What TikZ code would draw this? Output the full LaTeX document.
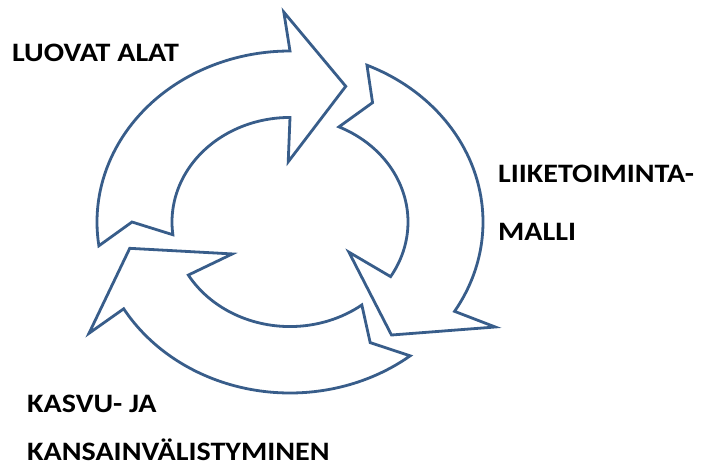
\documentclass[tikz,border=0pt]{standalone}
\usepackage{fontspec}
\setmainfont{Carlito}
\newfontfamily\labelfont{Carlito}[FakeStretch=1.13]
\usetikzlibrary{positioning}
\definecolor{arrowblue}{RGB}{56,93,138}

\begin{document}
\begin{tikzpicture}[x=1pt, y=1pt,
			cyclearrow/.style={draw=arrowblue, fill=white, line width=2.8pt, line join=miter},
			labeltext/.style={font=\labelfont\bfseries\fontsize{26.6}{30}\selectfont, anchor=base west, inner sep=0pt}
			]
			\useasboundingbox (0,0) rectangle (706,-466);
			
			% Cycle arrows
			\begin{scope}[shift={(290,-222)}, yscale=0.886]
			\foreach \t in {188,66.5,-51.5}
			\draw[cyclearrow] (\t:193pt) arc[start angle=\t, end angle=\t-98, radius=193pt]
				-- ({\t-96.5}:237pt) -- ({\t-118}:163pt) -- ({\t-96.5}:68pt) -- ({\t-98}:118pt)
				arc[start angle=\t-98, end angle=\t-1, radius=118pt] -- ({\t-8}:158pt) -- cycle;
			\end{scope}
			
			% Labels
			\node[labeltext] (luovat) at (12,-61.5) {LUOVAT ALAT};
			\node[labeltext] (liike) at (498,-182) {LIIKETOIMINTA-};
			\node[labeltext] (malli) at (498,-240.5) {MALLI};
			\node[labeltext] (kasvu) at (27,-412) {KASVU- JA};
			\node[labeltext] (kansain) at (27,-460) {KANSAINVÄLISTYMINEN};
		\end{tikzpicture}
\end{document}
